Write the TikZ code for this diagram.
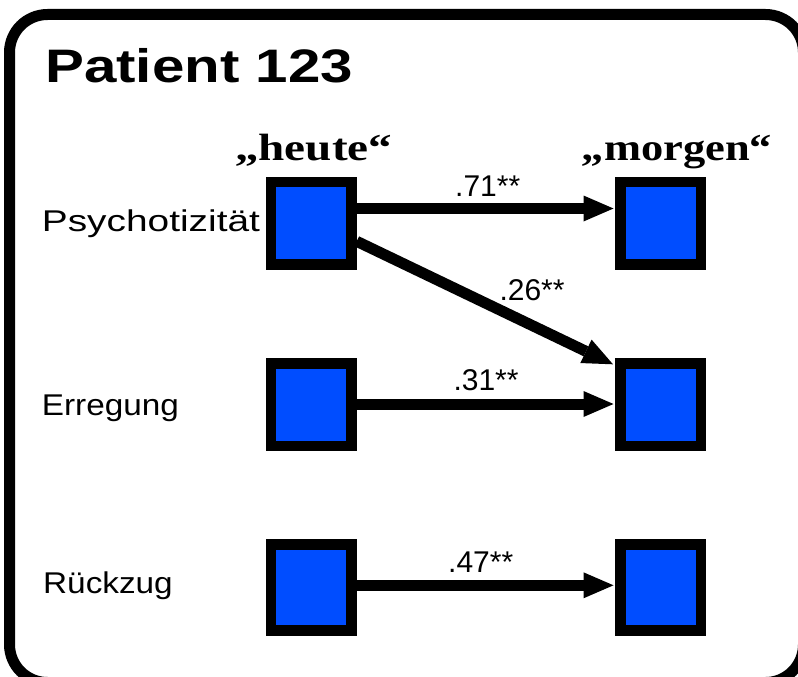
\documentclass[tikz,border=0pt]{standalone}
\usepackage{fontspec}
\setmainfont{Liberation Sans}
\newfontfamily\timesfont{Liberation Serif}
\usetikzlibrary{arrows.meta}
\definecolor{boxblue}{RGB}{0,77,255}
\tikzset{
  varbox/.style={rectangle, draw=black, fill=boxblue, line width=10.5pt,
    minimum width=80.5pt, minimum height=82.5pt, inner sep=0pt},
  txt/.style={anchor=base west, inner sep=0pt, font=\fontsize{30}{30}\selectfont},
  hdr/.style={anchor=base west, inner sep=0pt, font=\fontsize{38}{38}\selectfont\timesfont\bfseries},
  path arrow/.style={line width=11pt, -{Triangle[length=30pt,width=26pt,line width=0pt]}}
}
\begin{document}
\begin{tikzpicture}[x=1pt,y=-1pt]
\useasboundingbox (0,0) rectangle (798,677);
\begin{scope}
\clip (0,0) rectangle (798,677);
\fill[white] (0,0) rectangle (798,677);
\draw[line width=11pt, rounded corners=38pt] (9.5,14.5) -- (9.5,682.5) -- (803.5,682.5) -- (803.5,14.5) -- cycle;
\end{scope}

\node[anchor=base west, inner sep=0pt, font=\fontsize{47}{47}\selectfont\bfseries] (title) at (45,82) {\scalebox{1.24}[1]{Patient 123}};

\node[hdr] (heute) at (235,160) {\scalebox{1.24}[1]{„heute“}};
\node[hdr] (morgen) at (581.7,160) {\scalebox{1.17}[1]{„morgen“}};

\node[txt] (psy) at (41.7,231.7) {\scalebox{1.295}[1]{Psychotizität}};
\node[txt] (err) at (41.7,415) {\scalebox{1.11}[1]{Erregung}};
\node[txt] (rue) at (43,593.3) {\scalebox{1.11}[1]{Rückzug}};

\node[varbox] (a1) at (311.2,223.3) {};
\node[varbox] (a2) at (311.2,404.8) {};
\node[varbox, minimum height=86pt] (a3) at (311.2,587.7) {};
\node[varbox] (b1) at (660.5,223.3) {};
\node[varbox] (b2) at (660.5,404.8) {};
\node[varbox, minimum height=86pt] (b3) at (660.5,587.7) {};

\draw[path arrow, shorten >=1.5pt] ([yshift=14.8pt]a1.east) -- ([yshift=14.8pt]b1.west);
\draw[path arrow] ([yshift=-18pt]a1.east) -- ([xshift=-2pt,yshift=-6pt]b2.north west);
\draw[path arrow, shorten >=1.5pt] ([yshift=0.8pt]a2.east) -- ([yshift=0.8pt]b2.west);
\draw[path arrow, shorten >=1.5pt] ([yshift=2.4pt]a3.east) -- ([yshift=2.4pt]b3.west);

\node[txt] (l1) at (455,196) {.71**};
\node[txt] (l2) at (499.3,300) {.26**};
\node[txt] (l3) at (453.3,390) {.31**};
\node[txt] (l4) at (448,572) {.47**};
\end{tikzpicture}
\end{document}
